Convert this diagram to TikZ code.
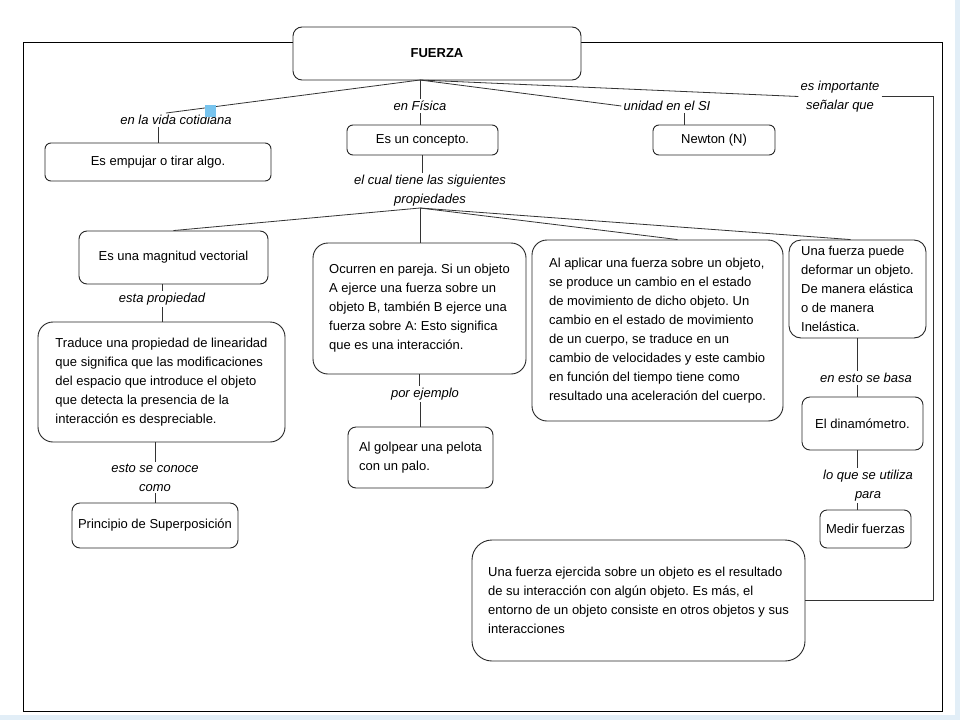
\documentclass[tikz,border=0pt]{standalone}
\usepackage{fontspec}
\setmainfont{Liberation Sans}
\frenchspacing
\definecolor{selblue}{RGB}{120,196,238}
\definecolor{stripblue}{RGB}{226,238,247}
\begin{document}
\begin{tikzpicture}[x=1pt,y=-1pt]
\tikzset{
  box/.style={draw=black!85, line width=0.9pt, fill=white, rounded corners=#1,
    align=left, inner sep=0pt, font=\fontsize{13}{19}\selectfont},
  box/.default=6pt,
  lbl/.style={font=\fontsize{13}{19}\selectfont\itshape, align=center, inner sep=2pt},
  link/.style={draw=black!80, line width=0.8pt},
  frame/.style={draw=black, line width=0.8pt}
}
\useasboundingbox (0,0) rectangle (960,720);
\fill[white] (0,0) rectangle (960,720);
\fill[stripblue] (0,715) rectangle (960,720);
\fill[stripblue] (955,0) rectangle (960,720);
% outer frame
\draw[frame] (23,42) rectangle (942,711);

% main node
\node[box=9pt, minimum width=288pt, minimum height=53pt, font=\fontsize{13}{16}\selectfont\bfseries] (fuerza) at (437,53.5) {FUERZA};
\coordinate (f0) at (420,80);

% first level labels
\node[lbl] (l1) at (176,120) {en la vida cotidiana};
\node[lbl] (l2) at (420,106) {en Física};
\node[lbl] (l3) at (667,106) {unidad en el SI};
\node[lbl] (l4) at (840,96.5) {es importante\\señalar que};

% first level boxes
\node[box, minimum width=226pt, minimum height=38pt] (e1) at (158,162) {Es empujar o tirar algo.};
\node[box, minimum width=151pt, minimum height=30pt] (c1) at (422.5,140) {Es un concepto.};
\node[box, minimum width=122pt, minimum height=30pt] (n1) at (714,140) {Newton (N)};

\node[lbl] (l5) at (430,191) {el cual tiene las siguientes\\propiedades};
\coordinate (p0) at (420,208);

% properties
\node[box=8pt, minimum width=189pt, minimum height=53pt] (m1) at (173.5,257.5) {Es una magnitud vectorial};
\node[box=15pt, minimum width=213pt, minimum height=131pt] (o1) at (419.5,308.5) {Ocurren en pareja. Si un objeto\\A ejerce una fuerza sobre un\\objeto B, también B ejerce una\\fuerza sobre A: Esto significa\\que es una interacción.};
\node[box=15pt, minimum width=251pt, minimum height=181pt] (a1) at (657.5,330.5) {Al aplicar una fuerza sobre un objeto,\\se produce un cambio en el estado\\de movimiento de dicho objeto. Un\\cambio en el estado de movimiento\\de un cuerpo, se traduce en un\\cambio de velocidades y este cambio\\en función del tiempo tiene como\\resultado una aceleración del cuerpo.};
\node[box=12pt, minimum width=137pt, minimum height=98pt] (u1) at (857.5,289) {Una fuerza puede\\deformar un objeto.\\De manera elástica\\o de manera\\Inelástica.};

% left column
\node[lbl] (s1) at (162,299) {esta propiedad};
\node[box=15pt, minimum width=247pt, minimum height=120pt] (t1) at (161.5,382) {Traduce una propiedad de linearidad\\que significa que las modificaciones\\del espacio que introduce el objeto\\que detecta la presencia de la\\interacción es despreciable.};
\node[lbl] (s2) at (155,477.5) {esto se conoce\\como};
\node[box=8pt, minimum width=166pt, minimum height=45pt] (ps) at (155,525.5) {Principio de Superposición};

% middle column
\node[lbl] (s3) at (425,394) {por ejemplo};
\node[box=8pt, minimum width=145pt, minimum height=61pt] (g1) at (420.5,457.5) {Al golpear una pelota\\con un palo.};

% right column
\node[lbl] (s4) at (866,378) {en esto se basa};
\node[box=8pt, minimum width=121pt, minimum height=53pt] (dn) at (862.5,423.5) {El dinamómetro.};
\node[lbl] (s5) at (868,485.5) {lo que se utiliza\\para};
\node[box=7pt, minimum width=91pt, minimum height=38pt] (mf) at (865.5,529) {Medir fuerzas};

% bottom box
\node[box=20pt, minimum width=333pt, minimum height=121pt] (lb) at (638.5,600.5) {Una fuerza ejercida sobre un objeto es el resultado\\de su interacción con algún objeto. Es más, el\\entorno de un objeto consiste en otros objetos y sus\\interacciones};

% connectors from FUERZA
\draw[link] (f0) -- ([xshift=-10pt]l1.north);
\draw[link] (e1.north |- l1.south) -- (e1.north);
\draw[link] (f0) -- (l2.north);
\draw[link] (l2.south) -- (l2.south |- c1.north);
\draw[link] (f0) -- (l3.west);
\draw[link] ([xshift=17pt]l3.south) -- ([xshift=-30pt]n1.north);
\draw[link] (f0) -- (l4.west);
\coordinate (rt) at (933,0);
\draw[link] (l4.east) -- (l4.east -| rt) -- (lb.east -| rt) -- (lb.east);

% concept to properties
\draw[link] (c1.south) -- (c1.south |- l5.north);
\draw[link] (p0) -- (m1.north);
\draw[link] (p0) -- (p0 |- o1.north);
\draw[link] (p0) -- ([xshift=20pt]a1.north);
\draw[link] (p0) -- ([xshift=-7pt]u1.north);

% left chain
\draw[link] (s1.north) -- (s1.north |- m1.south);
\draw[link] (s1.south) -- (s1.south |- t1.north);
\draw[link] (s2.north) -- (s2.north |- t1.south);
\draw[link] (s2.south) -- (s2.south |- ps.north);

% middle chain
\draw[link] (o1.south) -- (o1.south |- s3.north);
\draw[link] (g1.north |- s3.south) -- (g1.north);

% right chain
\draw[link] (u1.south) -- (u1.south |- s4.north);
\draw[link] (u1.south |- s4.south) -- (u1.south |- dn.north);
\draw[link] (u1.south |- dn.south) -- (u1.south |- s5.north);
\draw[link] (u1.south |- s5.south) -- (u1.south |- mf.north);

% selection artifact
\fill[selblue] (205,105) rectangle (216,117);
\end{tikzpicture}
\end{document}
